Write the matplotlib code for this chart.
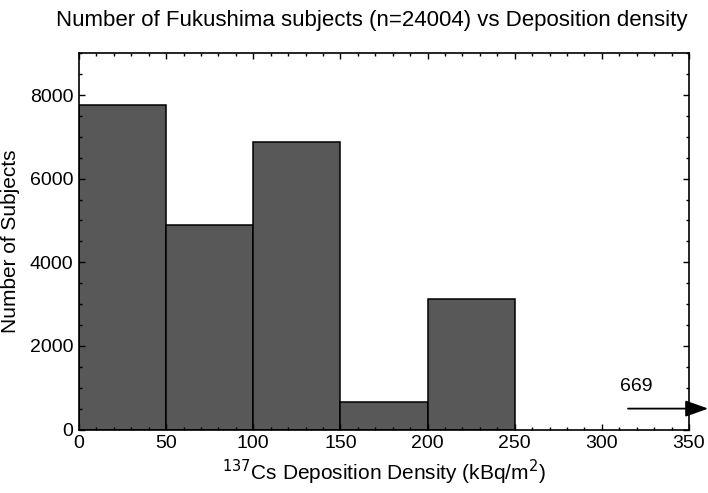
import matplotlib
matplotlib.use("Agg")
import matplotlib.pyplot as plt
from matplotlib.ticker import MultipleLocator

# histogram bins (kBq/m2) and counts
bin_edges = [0, 50, 100, 150, 200, 250]
counts = [7772, 4893, 6882, 660, 3128]
overflow_count = 669   # subjects beyond 350 kBq/m2
overflow_y = 500

plt.rcParams['font.family'] = ['Liberation Sans', 'DejaVu Sans']

fig = plt.figure(figsize=(7.08, 4.93), dpi=100)
ax = fig.add_axes([0.1116, 0.1288, 0.8616, 0.7631])

lefts = bin_edges[:-1]
widths = [b - a for a, b in zip(bin_edges[:-1], bin_edges[1:])]
ax.bar(lefts, counts, width=widths, align='edge', color='#585858',
       edgecolor='black', linewidth=1.1)

ax.set_xlim(0, 350)
ax.set_ylim(0, 9000)
ax.xaxis.set_major_locator(MultipleLocator(50))
ax.xaxis.set_minor_locator(MultipleLocator(10))
ax.yaxis.set_major_locator(MultipleLocator(2000))
ax.yaxis.set_minor_locator(MultipleLocator(500))
ax.tick_params(which='both', direction='in', top=True, right=True,
               width=1.0, labelsize=14, colors='black')
ax.tick_params(which='major', length=4.5, pad=4)
ax.tick_params(which='minor', length=2.3)
for s in ax.spines.values():
    s.set_linewidth(1.2)

# overflow arrow
ax.annotate('', xy=(361, overflow_y), xytext=(315, overflow_y),
            arrowprops=dict(arrowstyle='-|>,head_length=1.4,head_width=0.5',
                            color='black', lw=1.3, shrinkA=0, shrinkB=0),
            annotation_clip=False)
ax.text(320, 1030, str(overflow_count), ha='center', va='center', fontsize=14)

ax.set_xlabel(r'$^{137}$Cs Deposition Density (kBq/m$^2$)', fontsize=15, labelpad=4)
ax.set_ylabel('Number of Subjects', fontsize=15)
ax.yaxis.set_label_coords(-0.096, 0.5)
fig.suptitle('Number of Fukushima subjects (n=24004) vs Deposition density',
             x=0.525, y=0.98, fontsize=16)

fig.savefig('out.png', dpi=100)
